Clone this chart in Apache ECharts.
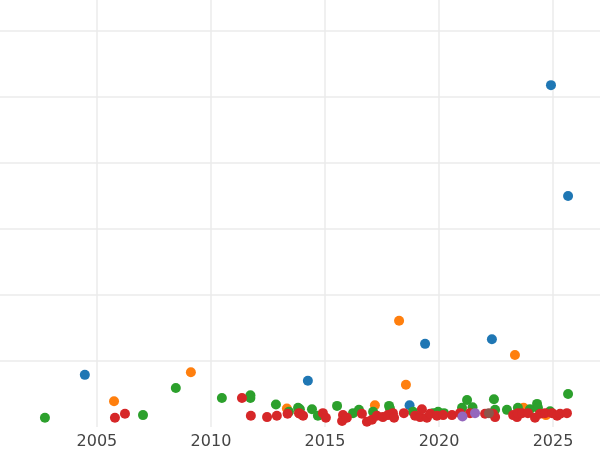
<!DOCTYPE html>
<html>
<head>
<meta charset="utf-8">
<script src="https://cdn.jsdelivr.net/npm/echarts@6/dist/echarts.min.js"></script>
<style>html,body{margin:0;padding:0;background:#fff}#c{width:600px;height:450px}</style>
</head>
<body>
<div id="c"></div>
<script>
const xRange = [2000.75, 2027.06];
const yRange = [0, 6.47];

const blue = [[2004.47,0.79],[2014.25,0.70],[2018.71,0.33],[2019.39,1.26],[2022.32,1.33],[2024.91,5.18],[2025.66,3.50]];

const orange = [[2005.75,0.39],[2009.12,0.83],[2013.33,0.28],[2017.19,0.33],[2018.25,1.61],[2018.55,0.64],[2023.33,1.09],[2023.71,0.29],[2024.69,0.18]];

const green = [[2002.72,0.14],[2007.02,0.18],[2008.46,0.59],[2010.48,0.44],[2011.73,0.48],[2011.73,0.44],[2012.85,0.34],[2013.42,0.23],[2013.82,0.29],[2013.90,0.27],[2014.43,0.27],[2014.69,0.17],[2015.53,0.32],[2016.23,0.21],[2016.49,0.26],[2017.11,0.23],[2017.81,0.32],[2017.85,0.28],[2018.86,0.23],[2019.74,0.21],[2019.96,0.23],[2020.22,0.21],[2021.01,0.29],[2021.23,0.41],[2021.47,0.30],[2022.41,0.42],[2022.46,0.26],[2022.98,0.26],[2023.46,0.29],[2023.99,0.27],[2024.30,0.35],[2024.34,0.29],[2024.87,0.24],[2025.66,0.50]];

const red = [[2005.79,0.14],[2006.23,0.20],[2011.36,0.44],[2011.75,0.17],[2012.46,0.15],[2012.89,0.17],[2013.36,0.20],[2013.86,0.21],[2013.90,0.20],[2014.04,0.17],[2014.91,0.21],[2015.04,0.14],[2015.79,0.18],[2015.75,0.09],[2015.96,0.14],[2016.62,0.20],[2016.84,0.08],[2017.06,0.11],[2017.28,0.17],[2017.54,0.15],[2017.76,0.18],[2017.98,0.21],[2018.03,0.14],[2018.46,0.21],[2018.95,0.17],[2019.17,0.15],[2019.25,0.27],[2019.47,0.14],[2019.61,0.20],[2019.91,0.17],[2020.18,0.18],[2020.57,0.18],[2020.92,0.21],[2021.36,0.21],[2022.02,0.20],[2022.37,0.20],[2022.46,0.15],[2023.25,0.18],[2023.42,0.15],[2023.46,0.21],[2023.64,0.21],[2023.90,0.21],[2024.21,0.14],[2024.43,0.20],[2024.65,0.21],[2024.96,0.21],[2025.18,0.17],[2025.31,0.20],[2025.61,0.21]];

const purple = [[2021.03,0.16],[2021.58,0.21]];

const brown = [[2022.19,0.21]];

const seriesList = [
  {data: blue, color: '#1f77b4'},
  {data: orange, color: '#ff7f0e'},
  {data: green, color: '#2ca02c'},
  {data: red, color: '#d62728'},
  {data: purple, color: '#9467bd'},
  {data: brown, color: '#8c564b'}
];

const chart = echarts.init(document.getElementById('c'), null, {renderer: 'canvas'});
chart.setOption({
  animation: false,
  backgroundColor: '#ffffff',
  grid: {left: 0, right: 0, top: 0, bottom: 23, containLabel: false},
  xAxis: {
    type: 'value',
    min: xRange[0], max: xRange[1], splitNumber: 5,
    axisLine: {show: false}, axisTick: {show: false},
    axisLabel: {show: true, color: '#444', fontSize: 16, fontFamily: 'DejaVu Sans', margin: 7,
      showMinLabel: false, showMaxLabel: false, formatter: v => String(Math.round(v))},
    splitLine: {show: true, showMinLine: false, showMaxLine: false, lineStyle: {color: '#ebebeb', width: 1.5}}
  },
  yAxis: {
    type: 'value',
    min: yRange[0], max: yRange[1], interval: 1,
    axisLine: {show: false}, axisTick: {show: false},
    axisLabel: {show: false},
    splitLine: {show: true, showMinLine: false, showMaxLine: false, lineStyle: {color: '#ebebeb', width: 1.5}}
  },
  series: seriesList.map(s => ({
    type: 'scatter',
    data: s.data,
    symbolSize: 10,
    itemStyle: {color: s.color, opacity: 1},
    emphasis: {disabled: true}
  }))
});
</script>
</body>
</html>
